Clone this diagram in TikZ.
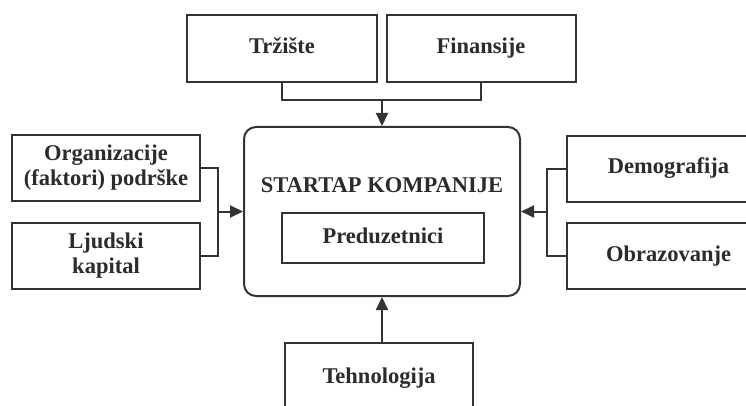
\documentclass[tikz,border=0pt]{standalone}
\usepackage{fontspec}
\setmainfont{Liberation Serif}
\usetikzlibrary{arrows.meta}
\definecolor{ink}{HTML}{333333}
\definecolor{txt}{HTML}{2B2B2B}
\begin{document}
\begin{tikzpicture}[x=1pt,y=-1pt,
  label/.style={align=center, inner sep=0pt, text=txt,
    font=\fontsize{22.5}{25}\selectfont\bfseries},
  factor/.style={label, draw=ink, line width=2pt, fill=white},
  oneline/.style={text height=16pt, text depth=6pt},
  link/.style={draw=ink, line width=2pt},
  arrow/.style={link, -{Triangle[length=13pt,width=12pt]}}]
\useasboundingbox (0,0) rectangle (746,406);
\clip (0,0) rectangle (746,406);

% top factors
\node[factor, oneline, minimum width=190pt, minimum height=67pt] (trz) at (282,48.5) {Tržište};
\node[factor, oneline, minimum width=189pt, minimum height=67pt] (fin) at (481,48.5) {Finansije};

% left factors
\node[factor, minimum width=188pt, minimum height=66pt] (org) at (106,168) {Organizacije\\(faktori) podrške};
\node[factor, minimum width=188pt, minimum height=66pt] (ljk) at (106,256) {Ljudski\\kapital};

% right factors
\node[factor, oneline, minimum width=203pt, minimum height=66pt] (dem) at (668.5,169) {Demografija};
\node[factor, oneline, minimum width=203pt, minimum height=66pt] (obr) at (668.5,256) {Obrazovanje};

% bottom factor
\node[factor, oneline, minimum width=188pt, minimum height=70pt] (teh) at (379,378) {Tehnologija};

% central block
\node[draw=ink, line width=2pt, rounded corners=12pt, minimum width=276pt,
  minimum height=169pt] (core) at (382,211.5) {};
\node[label, oneline] (title) at (382,187) {STARTAP KOMPANIJE};
\node[factor, oneline, minimum width=202pt, minimum height=50pt] (pre) at (383,238) {Preduzetnici};

% connectors
\coordinate (tj) at (382,100);
\draw[link] (trz.south) |- (tj) -| (fin.south);
\draw[arrow] (tj) -- (core.north);

\coordinate (lj) at (218,211.5);
\draw[link] (org.east) -| (lj) |- (ljk.east);
\draw[arrow] (lj) -- (core.west);

\coordinate (rj) at (547,211.5);
\draw[link] (dem.west) -| (rj) |- (obr.west);
\draw[arrow] (rj) -- (core.east);

\draw[arrow] (core.south |- teh.north) -- (core.south);
\end{tikzpicture}
\end{document}
